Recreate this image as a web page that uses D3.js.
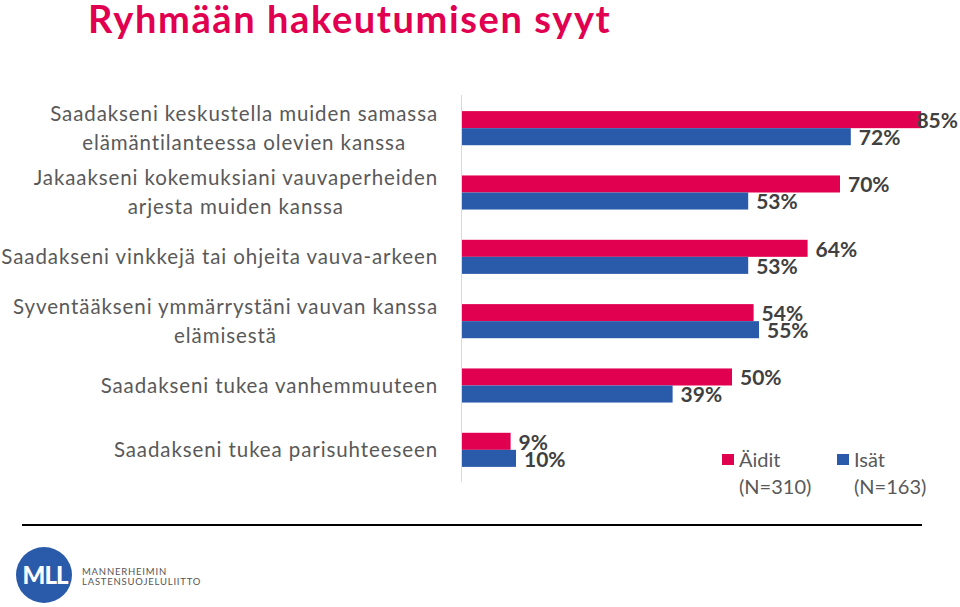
<!DOCTYPE html>
<html>
<head>
<meta charset="utf-8">
<script src="https://cdn.jsdelivr.net/npm/d3@7"></script>
<style>
  html, body { margin: 0; padding: 0; background: #fff; }
  svg { display: block; }
</style>
</head>
<body>
<svg id="chart" width="960" height="607"></svg>
<script>
const categories = [
  ["Saadakseni keskustella muiden samassa", "elämäntilanteessa olevien kanssa"],
  ["Jakaakseni kokemuksiani vauvaperheiden", "arjesta muiden kanssa"],
  ["Saadakseni vinkkejä tai ohjeita vauva-arkeen"],
  ["Syventääkseni ymmärrystäni vauvan kanssa", "elämisestä"],
  ["Saadakseni tukea vanhemmuuteen"],
  ["Saadakseni tukea parisuhteeseen"]
];
const seriesNames = ["Äidit", "Isät"];
const seriesN = ["(N=310)", "(N=163)"];
const aiditValues = [85, 70, 64, 54, 50, 9];
const isatValues = [72, 53, 53, 55, 39, 10];
const title = "Ryhmään hakeutumisen syyt";

const colors = ["#E10050", "#2A5BAA"];
const font = "Lato, 'Open Sans', sans-serif";

const svg = d3.select("#chart");

// Title
svg.append("text")
  .attr("x", 88).attr("y", 33)
  .attr("font-family", font).attr("font-weight", "bold")
  .attr("font-size", 38).attr("letter-spacing", 1.6).attr("fill", "#E10050")
  .text(title);

const x0 = 462;
const x = d3.scaleLinear().domain([0, 85]).range([x0, 921]);
const y = d3.scaleBand().domain(d3.range(categories.length)).range([96, 482]).paddingInner(0.47).paddingOuter(0.235);
const sub = d3.scaleBand().domain([0, 1]).range([0, y.bandwidth()]);

// axis line
svg.append("line").attr("x1", x0 - 0.5).attr("x2", x0 - 0.5).attr("y1", 95).attr("y2", 482)
  .attr("stroke", "#D9D9D9").attr("stroke-width", 1);

const data = categories.map((c, i) => ({ i, vals: [aiditValues[i], isatValues[i]] }));

const groups = svg.append("g").selectAll("g").data(data).join("g")
  .attr("transform", d => `translate(0,${y(d.i)})`);

groups.selectAll("rect").data(d => d.vals.map((v, s) => ({ v, s })))
  .join("rect")
  .attr("x", x(0))
  .attr("y", d => sub(d.s))
  .attr("width", d => x(d.v) - x(0))
  .attr("height", sub.bandwidth())
  .attr("fill", d => colors[d.s]);

groups.selectAll("text.val").data(d => d.vals.map((v, s) => ({ v, s })))
  .join("text")
  .attr("class", "val")
  .attr("y", d => sub(d.s) + sub.bandwidth() / 2 + 1)
  .attr("dy", "0.35em")
  .attr("font-family", font).attr("font-weight", "bold")
  .attr("font-size", 21).attr("fill", "#404040")
  .text(d => d.v + "%")
  .each(function (d) {
    const w = this.getComputedTextLength();
    const px = Math.min(x(d.v) + 8, 958 - w);
    d3.select(this).attr("x", px);
  });

// Category labels
const labelRight = 438;
const lineH = 29;
categories.forEach((lines, i) => {
  const cy = y(i) + y.bandwidth() / 2;
  const g = svg.append("g");
  const texts = lines.map((l, k) => g.append("text")
    .attr("font-family", font).attr("font-size", 20.5).attr("letter-spacing", 0.9).attr("fill", "#595959")
    .attr("text-anchor", "middle")
    .attr("y", cy + (k - (lines.length - 1) / 2) * lineH)
    .attr("dy", "0.35em")
    .text(l));
  const maxW = d3.max(texts, t => t.node().getComputedTextLength());
  texts.forEach(t => t.attr("x", labelRight - maxW / 2));
});

// Legend
const legX = [722, 837];
seriesNames.forEach((n, s) => {
  svg.append("rect").attr("x", legX[s]).attr("y", 454).attr("width", 12).attr("height", 11).attr("fill", colors[s]);
  svg.append("text").attr("x", legX[s] + 17).attr("y", 460).attr("dy", "0.35em")
    .attr("font-family", font).attr("font-size", 20).attr("fill", "#595959").text(n);
  svg.append("text").attr("x", legX[s] + 17).attr("y", 487).attr("dy", "0.35em")
    .attr("font-family", font).attr("font-size", 20).attr("fill", "#595959").text(seriesN[s]);
});

// bottom rule
svg.append("line").attr("x1", 22).attr("x2", 922).attr("y1", 525).attr("y2", 525)
  .attr("stroke", "#000").attr("stroke-width", 2);

// logo
svg.append("circle").attr("cx", 44).attr("cy", 575).attr("r", 28).attr("fill", "#2A5BAA");
svg.append("text").attr("x", 45).attr("y", 575).attr("dy", "0.36em").attr("text-anchor", "middle")
  .attr("font-family", font).attr("font-weight", "900").attr("font-size", 24).attr("fill", "#fff")
  .attr("letter-spacing", -1).text("MLL");
svg.append("text").attr("x", 82).attr("y", 572).attr("dy", "0.35em")
  .attr("font-family", font).attr("font-size", 9.5).attr("fill", "#555").attr("letter-spacing", 0.8)
  .text("MANNERHEIMIN");
svg.append("text").attr("x", 82).attr("y", 582).attr("dy", "0.35em")
  .attr("font-family", font).attr("font-size", 9.5).attr("fill", "#555").attr("letter-spacing", 0.8)
  .text("LASTENSUOJELULIITTO");
</script>
</body>
</html>
